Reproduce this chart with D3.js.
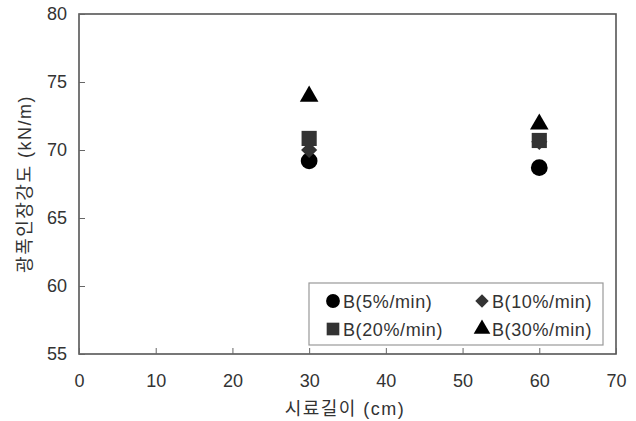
<!DOCTYPE html>
<html>
<head>
<meta charset="utf-8">
<script src="https://cdn.jsdelivr.net/npm/d3@7"></script>
<style>
  body { margin: 0; background: #fff; }
  svg text { font-family: "Liberation Sans", "Noto Sans CJK KR", sans-serif; fill: #333; }
</style>
</head>
<body>
<div id="chart"></div>
<script>
// data
const lengths = [30, 60];
const seriesNames = ['B(5%/min)', 'B(10%/min)', 'B(20%/min)', 'B(30%/min)'];
const b5 = [69.2, 68.7];
const b10 = [70.0, 70.6];
const b20 = [70.85, 70.7];
const b30 = [73.95, 71.9];
const xTicks = [0, 10, 20, 30, 40, 50, 60, 70];
const yTicks = [55, 60, 65, 70, 75, 80];

const W = 636, H = 421;
const margin = { top: 14, right: 20, bottom: 67, left: 79 };
const width = W - margin.left - margin.right;
const height = H - margin.top - margin.bottom;

const svg = d3.select('#chart').append('svg')
    .attr('width', W)
    .attr('height', H);

const g = svg.append('g')
    .attr('transform', `translate(${margin.left},${margin.top})`);

const x = d3.scaleLinear().domain([0, 70]).range([0, width]);
const y = d3.scaleLinear().domain([55, 80]).range([height, 0]);

// frame
g.append('rect')
    .attr('width', width).attr('height', height)
    .attr('fill', 'none').attr('stroke', '#555').attr('stroke-width', 1.6);

// x axis, ticks pointing inward
g.append('g')
    .attr('transform', `translate(0,${height})`)
    .call(d3.axisBottom(x).tickValues(xTicks).tickSizeInner(-6).tickSizeOuter(0).tickPadding(20))
    .call(a => {
        a.select('.domain').remove();
        a.selectAll('.tick line').attr('stroke', '#666');
        a.selectAll('text').attr('font-size', 18).attr('fill', '#333');
    });

// y axis
g.append('g')
    .call(d3.axisLeft(y).tickValues(yTicks).tickSizeInner(-6).tickSizeOuter(0).tickPadding(12))
    .call(a => {
        a.select('.domain').remove();
        a.selectAll('.tick line').attr('stroke', '#666');
        a.selectAll('text').attr('font-size', 18).attr('fill', '#333');
    });

// axis titles
svg.append('text')
    .attr('x', 345).attr('y', 415)
    .attr('text-anchor', 'middle').attr('font-size', 18)
    .attr('letter-spacing', 1.5)
    .text('시료길이 (cm)');

svg.append('text')
    .attr('transform', `translate(31,184) rotate(-90)`)
    .attr('text-anchor', 'middle').attr('font-size', 18)
    .attr('letter-spacing', 1.5)
    .text('광폭인장강도 (kN/m)');

// square rotated 45 degrees
const diamond = {
    draw(ctx, size) {
        const r = Math.sqrt(size / 2);
        ctx.moveTo(0, -r); ctx.lineTo(r, 0); ctx.lineTo(0, r); ctx.lineTo(-r, 0); ctx.closePath();
    }
};

const series = [
    { name: seriesNames[0], values: b5, shape: d3.symbolCircle, size: 220, color: '#000' },
    { name: seriesNames[1], values: b10, shape: diamond, size: 130, color: '#333' },
    { name: seriesNames[2], values: b20, shape: d3.symbolSquare, size: 230, color: '#333' },
    { name: seriesNames[3], values: b30, shape: d3.symbolTriangle, size: 150, color: '#000' }
];

// markers
series.forEach(s => {
    g.selectAll(null)
        .data(s.values.map((v, i) => ({ x: lengths[i], y: v })))
        .enter().append('path')
        .attr('d', d3.symbol().type(s.shape).size(s.size))
        .attr('transform', d => `translate(${x(d.x)},${y(d.y)})`)
        .attr('fill', s.color);
});

// legend
const legend = svg.append('g').attr('transform', 'translate(309,283)');
legend.append('rect')
    .attr('width', 294).attr('height', 62)
    .attr('fill', '#fff').attr('stroke', '#999').attr('stroke-width', 1.2);

const legendSize = [150, 90, 160, 120];
series.forEach((s, i) => {
    const col = i % 2, row = Math.floor(i / 2);
    const item = legend.append('g')
        .attr('transform', `translate(${24 + col * 149},${18 + row * 28})`);
    item.append('path')
        .attr('d', d3.symbol().type(s.shape).size(legendSize[i]))
        .attr('fill', s.color);
    item.append('text')
        .attr('x', 10).attr('y', 6.5)
        .attr('font-size', 18)
        .attr('letter-spacing', 0.6)
        .text(s.name);
});
</script>
</body>
</html>
